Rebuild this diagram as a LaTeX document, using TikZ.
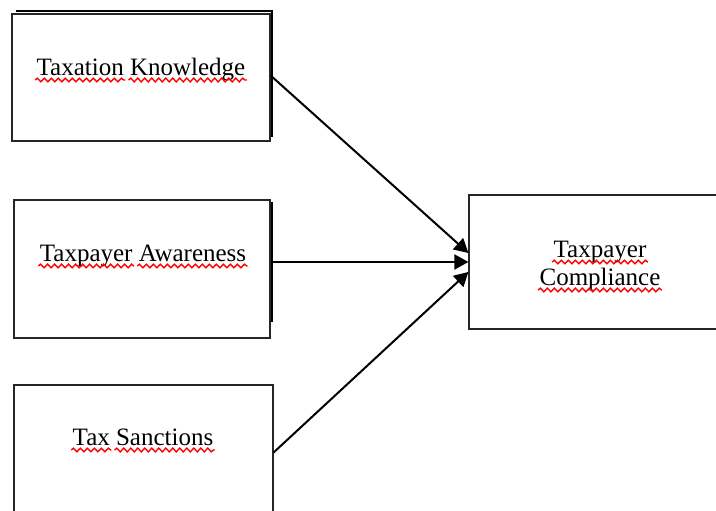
\documentclass[tikz,border=0pt]{standalone}
\usepackage{fontspec}
\setmainfont{Liberation Serif}
\usetikzlibrary{arrows.meta,decorations.pathmorphing}
\newcommand\squig[1]{\tikz[baseline=(w.base)]{\node[inner sep=0pt,outer sep=0pt,anchor=base](w){#1};\draw[overlay,red,line width=1.4pt,decorate,decoration={snake,segment length=7pt,amplitude=1.8pt}] ([yshift=-4pt,xshift=-1.5pt]w.base west) -- ([yshift=-4pt,xshift=1.5pt]w.base east);}}
\begin{document}
\begin{tikzpicture}[x=1pt,y=1pt,
  box/.style={draw=black!85,line width=1.2pt,fill=white,minimum width=#1,inner sep=0pt},
  lbl/.style={font=\fontsize{25}{29}\selectfont,inner sep=0pt,anchor=base},
  arr/.style={line width=2pt,-{Triangle[length=14pt,width=15pt]}}]
\useasboundingbox (0,0) rectangle (716,511);
\clip (0,0) rectangle (716,511);
% shadow edges of box 1 and box 2
\draw[line width=1.2pt] (16,500) -- (272,500) -- (272,374);
\draw[line width=1.2pt] (272,309) -- (272,189);
\node[box=258pt,minimum height=127pt] (b1) at (141,433.5) {};
\node[box=256pt,minimum height=138pt] (b2) at (142,242) {};
\node[box=259pt,minimum height=135pt] (b3) at (143.5,58.5) {};
\node[box=253pt,minimum height=134pt] (b4) at (595.5,249) {};
\node[lbl] (t1) at (141,435) {\squig{Taxation} \squig{Knowledge}};
\node[lbl] (t2) at (143,249) {\squig{Taxpayer} \squig{Awareness}};
\node[lbl] (t3) at (143,65) {\squig{Tax} \squig{Sanctions}};
\node[lbl] (t4a) at (600,253) {\squig{Taxpayer}};
\node[lbl] (t4b) at (600,225) {\squig{Compliance}};
\draw[arr] ([yshift=2pt]b1.east) -- ([yshift=9pt]b4.west);
\draw[arr] ([yshift=7pt]b2.east) -- (b4.west);
\draw[arr] (b3.east) -- ([yshift=-10pt]b4.west);
\end{tikzpicture}
\end{document}
